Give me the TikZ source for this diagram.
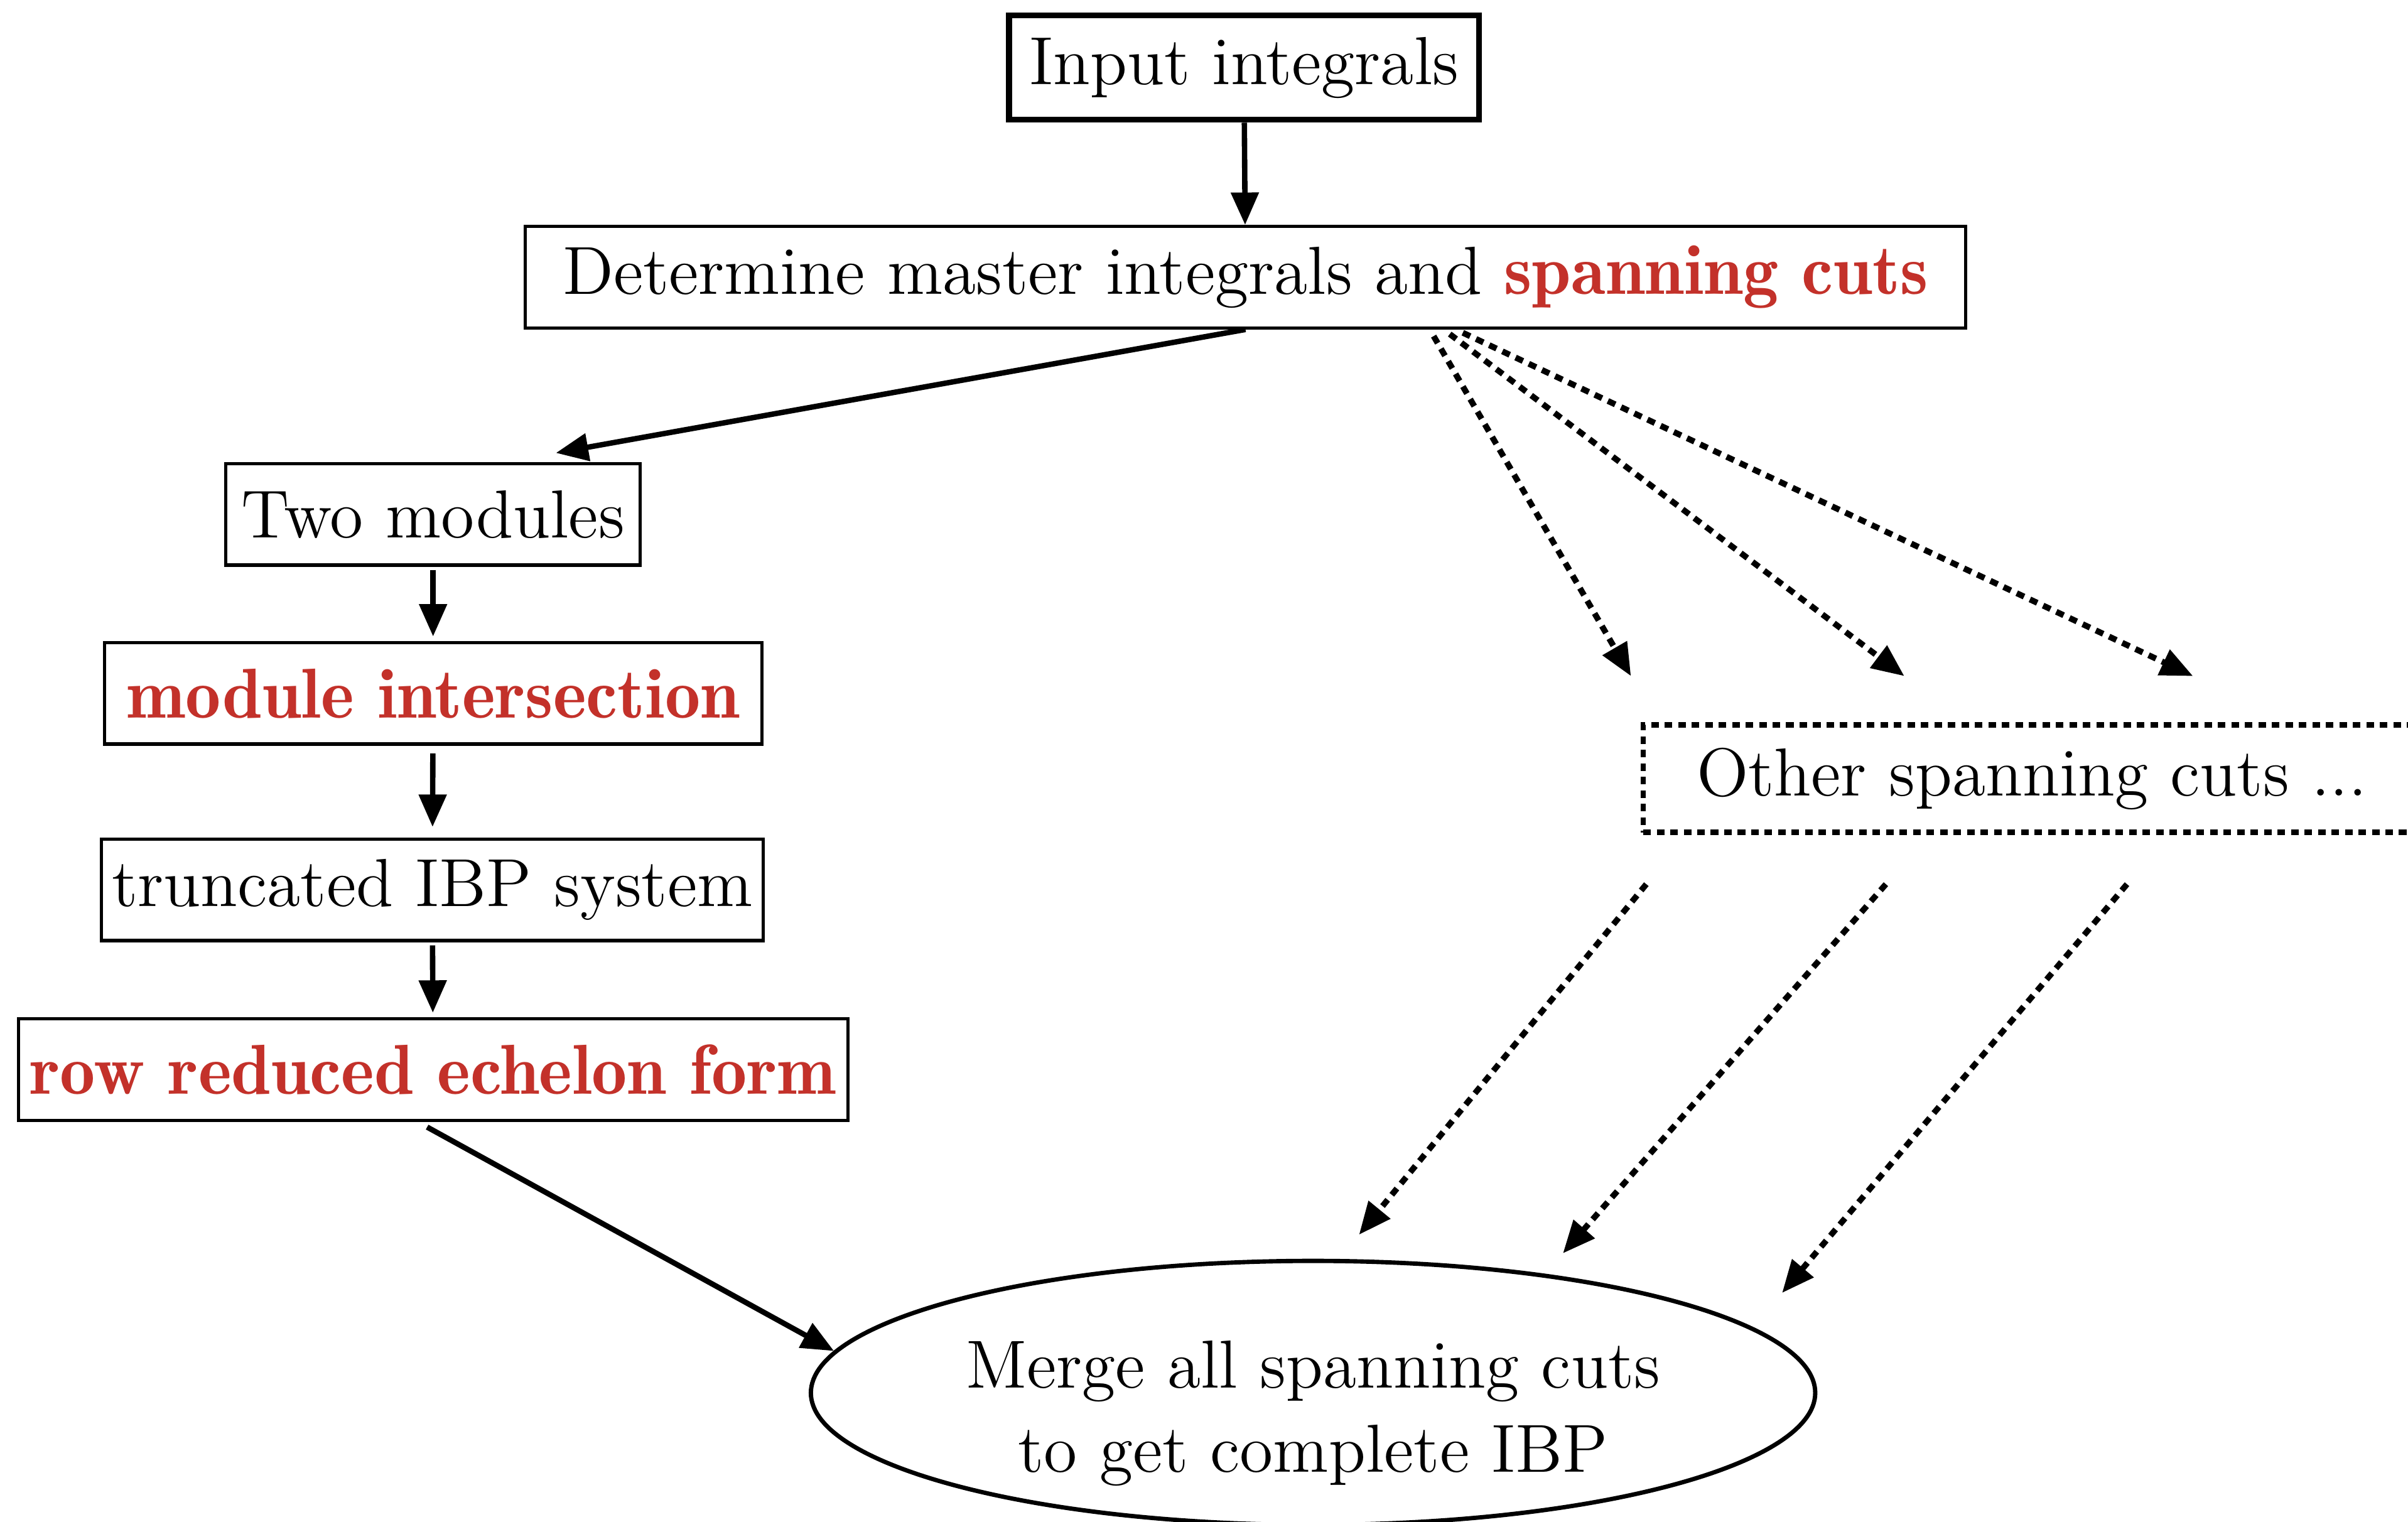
\documentclass[tikz,border=0pt]{standalone}
\usepackage{tikz}
\usetikzlibrary{positioning,arrows.meta,shapes.geometric}
\definecolor{cutred}{HTML}{C3312A}
\newcommand{\redb}[1]{\textcolor{cutred}{\fontsize{13.1}{15.6}\fontseries{b}\selectfont #1}}

\begin{document}
\begin{tikzpicture}[
    font=\fontsize{12.6}{15.6}\selectfont,
    BX/.style={rectangle, draw=black, line width=0.6pt,
      inner sep=0pt, minimum height=0.66cm},
    TOP/.style={BX, line width=1.1pt, minimum height=0.68cm},
    OT/.style={rectangle, draw=black, line width=1pt,
      dash pattern=on 1.4pt off 1.1pt,
      inner sep=0pt, minimum height=0.70cm},
    EL/.style={ellipse, draw=black, line width=0.8pt, align=center,
      inner sep=0pt, text height=32pt,
      minimum width=6.54cm, minimum height=1.68cm},
    arr/.style={-{Triangle[length=6pt,width=5pt]}, line width=1pt},
    dar/.style={arr, line width=1.1pt, dash pattern=on 1.5pt off 1.2pt}
  ]
    \useasboundingbox (0,0) rectangle (15.68,-9.91);

    %% top
    \node[TOP, minimum width=3.06cm] (inp) at (8.10,-0.44) {Input integrals};
    \node[BX, minimum width=9.38cm] (det) at (8.11,-1.805)
      {Determine master integrals and \redb{spanning cuts}};

    %% left column
    \node[BX, minimum width=2.70cm] (two) at (2.82,-3.35) {Two modules};
    \node[BX, minimum width=4.28cm] (mod) at (2.82,-4.515) {\redb{module intersection}};
    \node[BX, minimum width=4.31cm] (ibp) at (2.815,-5.795) {truncated IBP system};
    \node[BX, minimum width=5.40cm] (rref) at (2.82,-6.965) {\redb{row reduced echelon form}};

    %% right side
    \node[OT, minimum width=5.06cm] (oth) at (13.23,-5.07) {Other spanning cuts ...};

    %% bottom
    \node[EL] (mrg) at (8.55,-9.07) {Merge all spanning cuts\\to get complete IBP};

    %% Arrows
    \draw[arr] (inp) -- (det);
    \draw[arr] (det.south) -- ([xshift=8mm,yshift=0.6mm]two.north);
    \draw[arr, shorten <=0.2mm, shorten >=0.3mm] (two) -- (mod);
    \draw[arr, shorten <=0.5mm, shorten >=0.7mm] (mod) -- (ibp);
    \draw[arr, shorten <=0.2mm, shorten >=0.3mm] (ibp) -- (rref);
    \draw[arr, shorten <=0.7mm] ([xshift=-1mm]rref.south) -- (mrg.175);

    \foreach \s/\e in {12mm/-26.1mm, 12.9mm/-8.3mm, 13.7mm/10.5mm}
      \draw[dar, shorten <=0.5mm] ([xshift=\s]det.south) -- ([xshift=\e,yshift=3mm]oth.north);

    \foreach \s/\a/\u in {-25.1mm/71/1.6mm, -9.5mm/25/1.5mm, 6.2mm/6/3.3mm}
      \draw[dar] ([xshift=\s,yshift=-3.2mm]oth.south) -- ([yshift=\u]mrg.\a);
  \end{tikzpicture}
\end{document}
